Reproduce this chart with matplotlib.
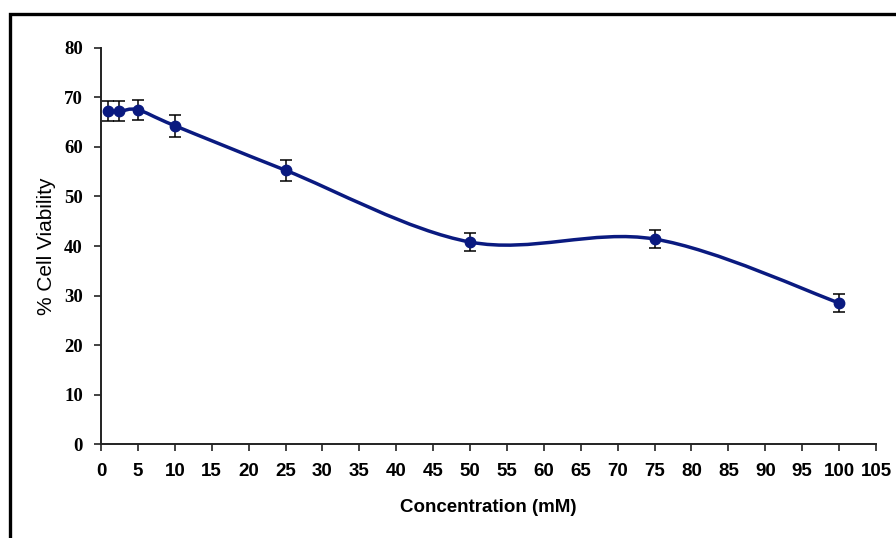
import matplotlib
matplotlib.use('Agg')
import matplotlib.pyplot as plt
from matplotlib.path import Path
from matplotlib.patches import PathPatch, Rectangle

# Concentration (mM) vs % cell viability, mean +/- error
concentration = [1, 2.5, 5, 10, 25, 50, 75, 100]
viability = [67.2, 67.2, 67.5, 64.3, 55.3, 40.8, 41.4, 28.5]
error = [2.0, 2.0, 2.0, 2.2, 2.1, 1.9, 1.9, 1.9]

x_ticks = list(range(0, 106, 5))
y_ticks = list(range(0, 81, 10))

LINE_COLOR = '#0a1a80'


def smooth_path(xs, ys):
    """Bezier path through the points, same style as a spreadsheet smoothed line."""
    pts = list(zip(xs, ys))
    n = len(pts)
    verts = [pts[0]]
    codes = [Path.MOVETO]
    for i in range(n - 1):
        p0 = pts[i - 1] if i > 0 else pts[i]
        p1 = pts[i]
        p2 = pts[i + 1]
        p3 = pts[i + 2] if i + 2 < n else pts[i + 1]
        c1 = (p1[0] + (p2[0] - p0[0]) / 6, p1[1] + (p2[1] - p0[1]) / 6)
        c2 = (p2[0] - (p3[0] - p1[0]) / 6, p2[1] - (p3[1] - p1[1]) / 6)
        verts += [c1, c2, p2]
        codes += [Path.CURVE4] * 3
    return Path(verts, codes)


fig = plt.figure(figsize=(8.96, 5.38), dpi=100)
ax = fig.add_axes([0.1127, 0.1747, 0.865, 0.7361])

ax.add_patch(PathPatch(smooth_path(concentration, viability), facecolor='none',
                       edgecolor=LINE_COLOR, lw=2.5, zorder=2))
ax.errorbar(concentration, viability, yerr=error, fmt='none', ecolor='black',
            elinewidth=1.1, capsize=4.5, capthick=1.1, zorder=3)
ax.plot(concentration, viability, 'o', color=LINE_COLOR, markersize=7.5, zorder=4)

ax.set_xlim(0, 105)
ax.set_ylim(0, 80)
ax.set_xticks(x_ticks)
ax.set_yticks(y_ticks)

for side in ['top', 'right']:
    ax.spines[side].set_visible(False)
for side in ['left', 'bottom']:
    ax.spines[side].set_color('#222222')
    ax.spines[side].set_linewidth(1.4)

ax.tick_params(axis='both', direction='out', length=5, width=1.2, color='#222222')
ax.tick_params(axis='x', pad=9)
ax.tick_params(axis='y', pad=8)

for lab in ax.get_xticklabels():
    lab.set_fontfamily('Liberation Sans')
    lab.set_fontweight('bold')
    lab.set_fontsize(13.5)
for lab in ax.get_yticklabels():
    lab.set_fontfamily('Liberation Serif')
    lab.set_fontweight('bold')
    lab.set_fontsize(13.5)

ax.set_xlabel('Concentration (mM)', fontfamily='Liberation Sans', fontweight='bold',
              fontsize=13.5, labelpad=13)
ax.set_ylabel('% Cell Viability', fontfamily='Liberation Sans', fontsize=15,
              labelpad=6)

# outer chart border, running off the right and bottom edges
fig.patches.append(Rectangle((10 / 896, -0.05), 1.0, 1 - 14 / 538 + 0.05,
                             transform=fig.transFigure, fill=False,
                             edgecolor='black', lw=2.4, clip_on=False))

fig.savefig('out.png', dpi=100, facecolor='white')
